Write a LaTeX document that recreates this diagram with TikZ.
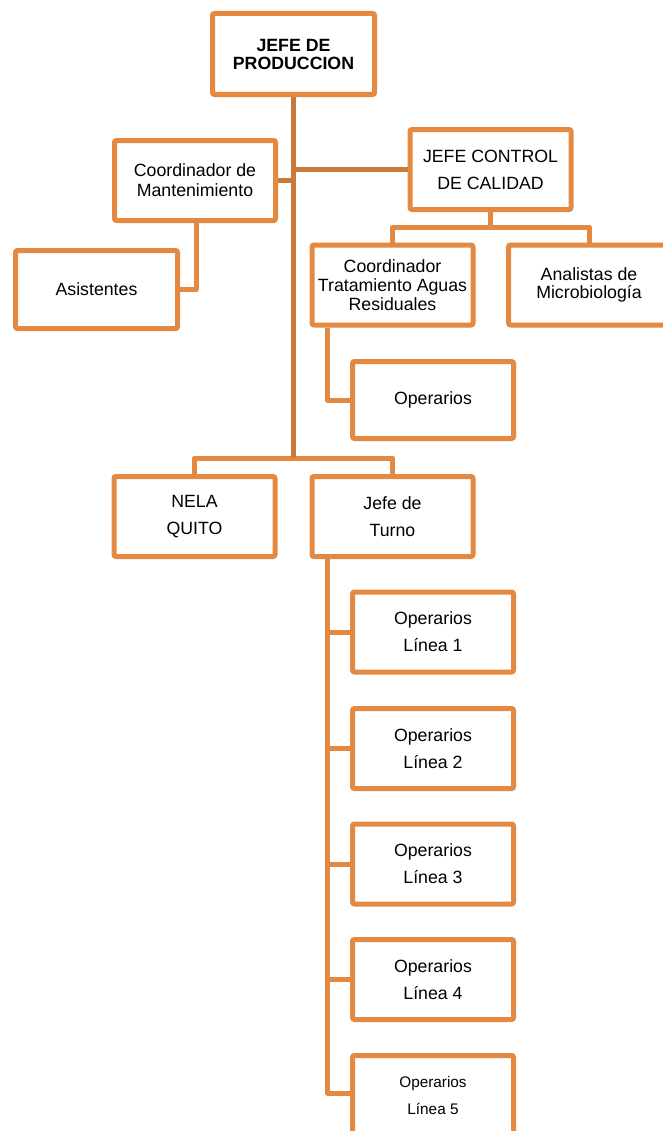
\documentclass[tikz,border=0pt]{standalone}
\usepackage{fontspec}
\setmainfont{Liberation Sans}
\definecolor{boxc}{RGB}{227,137,66}
\definecolor{trunkc}{RGB}{200,122,58}
\tikzset{
  box/.style={draw=boxc, line width=3.75pt, rounded corners=1.5pt, fill=white,
    minimum width=120.75pt, minimum height=60pt, inner sep=0pt, align=center,
    font=\fontsize{13.3}{20.25}\selectfont},
  link/.style={draw=boxc, line width=3.75pt, line join=round},
  trunk/.style={draw=trunkc, line width=3.75pt, line join=round}
}
\begin{document}
\begin{tikzpicture}[x=0.75pt, y=-0.75pt]
  \useasboundingbox (0,0) rectangle (662,1131);
  % boxes
  \node[box, minimum width=121.5pt, minimum height=60.75pt, font=\fontsize{13.3}{13.5}\selectfont\bfseries] (jefe) at (293.5,54) {JEFE DE\\PRODUCCION};
  \node[box, font=\fontsize{13.3}{15}\selectfont] (cmant) at (195,180.5) {Coordinador de\\Mantenimiento};
  \node[box] (jcal) at (490.5,169.5) {JEFE CONTROL\\DE CALIDAD};
  \node[box, minimum width=121.5pt, minimum height=58.5pt] (asist) at (96.5,289.5) {Asistentes};
  \node[box, font=\fontsize{13.3}{14.5}\selectfont] (ctrat) at (392.5,285) {Coordinador\\Tratamiento Aguas\\Residuales};
  \node[box, font=\fontsize{13.3}{13}\selectfont] (anal) at (589,285) {Analistas de\\Microbiología};
  \node[box, minimum height=57.75pt] (oper) at (433,400) {Operarios};
  \node[box] (nela) at (194.5,516.5) {NELA\\QUITO};
  \node[box] (jturno) at (392.5,516.5) {Jefe de\\Turno};
  \foreach \i/\y in {1/632,2/748.5,3/864,4/979.5}
    \node[box] (l\i) at (433,\y) {Operarios\\Línea \i};
  \node[box, font=\fontsize{11.5}{20.25}\selectfont] (l5) at (433,1095.5) {Operarios\\Línea 5};
  % connectors
  \coordinate (jt) at (293.5,458);
  \coordinate (qb) at (490.5,227);
  \draw[link] (nela.north) |- (jt) -| (jturno.north);
  \draw[trunk] (jefe.south) -- (jt);
  \draw[trunk] (cmant.east) -- (cmant.east -| jefe.south);
  \draw[trunk] (jcal.west) -- (jcal.west -| jefe.south);
  \draw[link] ([shift={(1,0)}]cmant.south) |- (asist.east);
  \draw[link] (jcal.south) -- (qb);
  \draw[link] (ctrat.north) |- (qb) -| (anal.north);
  \draw[link] ([shift={(18,0)}]ctrat.south west) |- (oper.west);
  \coordinate (tx) at ([shift={(18,0)}]jturno.south west);
  \draw[link] (tx) |- ([shift={(0,-2.5)}]l5.west);
  \foreach \i in {1,...,4}
    \draw[link] (l\i.west) -- (l\i.west -| tx);
\end{tikzpicture}
\end{document}
